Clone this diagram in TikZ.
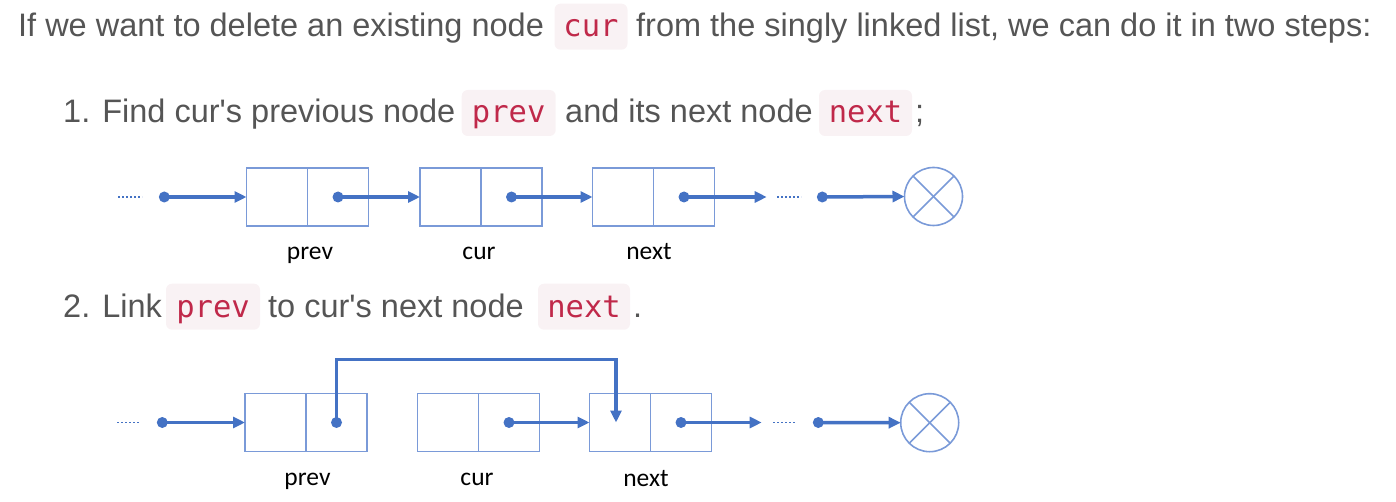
\documentclass[tikz,border=0pt]{standalone}
\usepackage{fontspec}
\newfontfamily\bodyfont{Liberation Sans}
\newfontfamily\codefont{DejaVu Sans Mono}
\newfontfamily\labfont{Carlito}
\usetikzlibrary{arrows.meta}
\definecolor{txtgray}{HTML}{555555}
\definecolor{codered}{HTML}{C0294A}
\definecolor{codebg}{HTML}{F9F2F4}
\definecolor{lnblue}{HTML}{4472C4}
\definecolor{boxblue}{HTML}{7A9AD8}
\begin{document}
\begin{tikzpicture}[x=1pt,y=-1pt,
 body/.style={anchor=base west, inner sep=0, text=txtgray, font=\bodyfont\fontsize{32.5}{39}\selectfont},
 codebox/.style={fill=codebg, rounded corners=6pt, minimum height=46pt, inner sep=0, anchor=center},
 codetxt/.style={anchor=base, inner sep=0, text=codered, font=\codefont\fontsize{30.5}{36}\selectfont},
 field/.style={draw=boxblue, line width=1.6pt, minimum width=61pt, minimum height=58pt, inner sep=0, outer sep=0, anchor=west},
 ptr/.style={circle, fill=lnblue, inner sep=0, minimum size=11pt},
 link/.style={draw=lnblue, line width=3.5pt, -{Triangle[length=12pt,width=11pt]}},
 ellip/.style={draw=lnblue, line width=1.8pt, dash pattern=on 1.8pt off 2.2pt},
 nullc/.style={circle, draw=boxblue, line width=1.6pt, minimum size=58pt, inner sep=0, outer sep=0},
 cross/.style={draw=boxblue, line width=1.6pt},
 lab/.style={anchor=base, inner sep=0, text=black, font=\labfont\fontsize{25.5}{30}\selectfont}
]
\useasboundingbox (0,0) rectangle (1396,502);

% ---- text line 1
\node[body] (t1a) at (18,36.7) {If we want to delete an existing node};
\node[codebox, minimum width=73pt] (k1) at (591,26.7) {};
\node[codetxt] (k1t) at (591,36.7) {cur};
\node[body] (t1b) at (636,36.7) {from the singly linked list, we can do it in two steps:};

% ---- text line 2
\node[body] (t2a) at (63,123) {1. Find cur's previous node};
\node[codebox, minimum width=94pt] (k2) at (508.7,113) {};
\node[codetxt] (k2t) at (508.7,123) {prev};
\node[body] (t2b) at (565,123) {and its next node};
\node[codebox, minimum width=93pt] (k3) at (865.5,113) {};
\node[codetxt] (k3t) at (865.5,123) {next};
\node[body] (t2c) at (915,123) {;};

% ---- text line 3
\node[body] (t3a) at (63,317) {2. Link};
\node[codebox, minimum width=94pt] (k4) at (213,306.7) {};
\node[codetxt] (k4t) at (213,317) {prev};
\node[body] (t3b) at (268,317) {to cur's next node};
\node[codebox, minimum width=92pt] (k5) at (584,306.7) {};
\node[codetxt] (k5t) at (584,317) {next};
\node[body] (t3c) at (633,317) {.};

% ---- diagram 1
\coordinate (e1a) at (118,197);
\coordinate (e1b) at (142,197);
\draw[ellip] (e1a) -- (e1b);
\node[ptr] (s1) at (164.3,197) {};
\node[field] (p1a) at (246.5,197) {};
\node[field] (p1b) at (p1a.east) {};
\node[field] (c1a) at (420,197) {};
\node[field] (c1b) at (c1a.east) {};
\node[field] (n1a) at (592.5,197) {};
\node[field] (n1b) at (n1a.east) {};
\node[ptr] (p1d) at (p1b.center) {};
\node[ptr] (c1d) at (c1b.center) {};
\node[ptr] (n1d) at (n1b.center) {};
\coordinate (n1end) at (766.7,197);
\coordinate (e1c) at (777,197);
\coordinate (e1d) at (801,197);
\draw[ellip] (e1c) -- (e1d);
\node[ptr] (t1d) at (822.3,197) {};
\node[nullc] (z1) at (933.5,196.5) {};
\draw[cross] (z1.45) -- (z1.225);
\draw[cross] (z1.135) -- (z1.315);
\draw[link] (s1.center) -- (p1a.west);
\draw[link] (p1d.center) -- (c1a.west);
\draw[link] (c1d.center) -- (n1a.west);
\draw[link] (n1d.center) -- (n1end);
\draw[link] (t1d.center) -- (z1.west);
\node[lab] (l1p) at (310,260) {prev};
\node[lab] (l1c) at (479,260) {cur};
\node[lab] (l1n) at (649,260) {next};

% ---- diagram 2
\coordinate (e2a) at (117,422.5);
\coordinate (e2b) at (140.7,422.5);
\draw[ellip] (e2a) -- (e2b);
\node[ptr] (s2) at (162.3,422.5) {};
\node[field] (p2a) at (245,422.5) {};
\node[field] (p2b) at (p2a.east) {};
\node[field] (c2a) at (417.5,422.5) {};
\node[field] (c2b) at (c2a.east) {};
\node[field] (n2a) at (589.5,422.5) {};
\node[field] (n2b) at (n2a.east) {};
\node[ptr] (p2d) at (p2b.center) {};
\node[ptr] (c2d) at (c2b.center) {};
\node[ptr] (n2d) at (n2b.center) {};
\coordinate (n2end) at (761.7,422.5);
\coordinate (e2c) at (773,422.5);
\coordinate (e2d) at (796.7,422.5);
\draw[ellip] (e2c) -- (e2d);
\node[ptr] (t2d) at (818.3,422.5) {};
\node[nullc] (z2) at (929.7,422.7) {};
\draw[cross] (z2.45) -- (z2.225);
\draw[cross] (z2.135) -- (z2.315);
\coordinate (lk) at (616,359.3);
\draw[link] (s2.center) -- (p2a.west);
\draw[link] (p2d.center) |- (lk) -- (lk |- n2a.center);
\draw[link] (c2d.center) -- (n2a.west);
\draw[link] (n2d.center) -- (n2end);
\draw[link] (t2d.center) -- (z2.west);
\node[lab] (l2p) at (307.5,485.7) {prev};
\node[lab] (l2c) at (477,485.7) {cur};
\node[lab] (l2n) at (646,486.7) {next};
\end{tikzpicture}
\end{document}
